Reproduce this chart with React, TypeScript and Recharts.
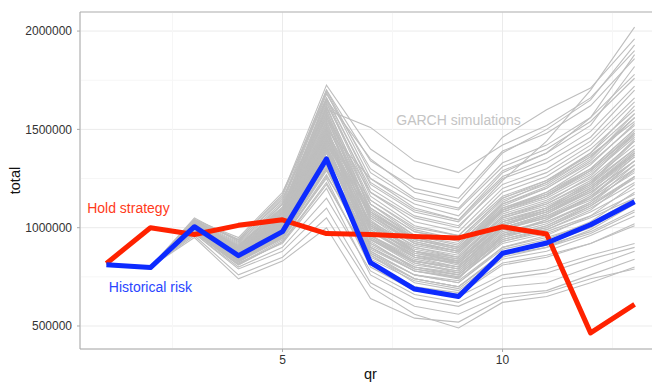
import {
  LineChart,
  Line,
  XAxis,
  YAxis,
  CartesianGrid,
  ReferenceLine,
  ReferenceDot,
} from "recharts";

// quarter index on the x axis
const quarters = [1, 2, 3, 4, 5, 6, 7, 8, 9, 10, 11, 12, 13];

// values below are in thousands
const UNIT = 1000;

const holdStrategy = [818, 1000, 965, 1012, 1040, 970, 965, 955, 948, 1005, 968, 465, 610];
const historicalRisk = [812, 797, 1005, 858, 980, 1350, 822, 688, 650, 870, 922, 1015, 1132];

// GARCH simulated paths (one row per simulation)
const garchSims: number[][] = [
  [815, 800, 1040, 900, 1120, 1560, 1180, 1050, 1000, 1240, 1440, 1700, 2020],
  [815, 800, 1050, 930, 1150, 1600, 1510, 1340, 1280, 1420, 1520, 1660, 1900],
  [815, 800, 1030, 940, 1170, 1725, 1400, 1250, 1200, 1460, 1600, 1710, 1960],
  [815, 800, 1020, 910, 1100, 1650, 1350, 1180, 1130, 1380, 1500, 1650, 1930],
  [815, 800, 1010, 880, 1060, 1500, 1250, 1100, 1040, 1280, 1380, 1560, 1880],
  [815, 800, 960, 760, 850, 1050, 700, 560, 490, 620, 650, 720, 800],
  [815, 800, 950, 740, 830, 1000, 640, 540, 520, 640, 670, 740, 790],
  [815, 800, 970, 790, 880, 1100, 720, 600, 560, 660, 680, 760, 840],
  [815, 800, 980, 820, 920, 1200, 760, 640, 600, 700, 720, 800, 880],
  [815, 800, 990, 830, 950, 1250, 800, 680, 650, 760, 790, 860, 920],
  [815, 800, 1000, 860, 1000, 1420, 960, 830, 790, 980, 1030, 1120, 1260],
  [815, 800, 1010, 870, 1020, 1480, 1000, 870, 830, 1020, 1080, 1180, 1340],
  [815, 800, 995, 850, 980, 1380, 920, 800, 760, 940, 990, 1080, 1200],
  [815, 800, 1005, 880, 1040, 1540, 1050, 900, 850, 1060, 1120, 1240, 1420],
  [815, 800, 1015, 890, 1060, 1580, 1090, 940, 890, 1100, 1170, 1300, 1500],
  [815, 800, 990, 845, 970, 1340, 880, 760, 730, 900, 950, 1020, 1150],
  [815, 800, 1000, 865, 1010, 1450, 980, 850, 820, 1000, 1060, 1150, 1300],
  [815, 800, 1020, 895, 1080, 1620, 1120, 980, 930, 1140, 1220, 1360, 1560],
  [815, 800, 985, 840, 960, 1300, 850, 740, 700, 870, 910, 980, 1090],
  [815, 800, 1025, 905, 1090, 1640, 1160, 1010, 960, 1180, 1260, 1400, 1600],
  [815, 800, 1000, 855, 995, 1400, 940, 810, 780, 960, 1000, 1100, 1230],
  [815, 800, 1008, 875, 1030, 1500, 1020, 880, 840, 1040, 1100, 1210, 1380],
  [815, 800, 975, 810, 930, 1230, 820, 700, 670, 820, 860, 920, 1010],
  [815, 800, 1012, 885, 1050, 1560, 1070, 920, 870, 1080, 1150, 1270, 1460],
  [815, 800, 995, 850, 990, 1440, 900, 780, 740, 960, 1040, 1160, 1320],
  [815, 800, 1005, 870, 1015, 1470, 1010, 860, 810, 990, 1050, 1140, 1280],
  [815, 800, 990, 840, 975, 1360, 990, 880, 850, 1050, 1120, 1230, 1400],
  [815, 800, 1018, 900, 1075, 1600, 1040, 880, 820, 1000, 1070, 1190, 1360],
  [815, 800, 980, 825, 945, 1270, 870, 760, 720, 890, 940, 1030, 1180],
  [815, 800, 1002, 860, 1005, 1430, 1100, 960, 920, 1120, 1200, 1330, 1520],
  [815, 800, 1010, 880, 1035, 1520, 930, 790, 750, 930, 980, 1060, 1170],
  [815, 800, 996, 855, 990, 1410, 960, 840, 800, 1010, 1090, 1220, 1440],
  [815, 800, 1022, 905, 1085, 1630, 1200, 1060, 1010, 1220, 1300, 1440, 1660],
  [815, 800, 985, 835, 965, 1320, 900, 790, 760, 940, 1000, 1110, 1260],
  [815, 800, 1030, 920, 1120, 1680, 1300, 1150, 1100, 1330, 1420, 1560, 1780],
  [815, 800, 1035, 925, 1130, 1690, 1250, 1120, 1060, 1290, 1380, 1520, 1820],
  [815, 800, 1000, 862, 1000, 1450, 1140, 1000, 960, 1160, 1240, 1380, 1580],
  [815, 800, 970, 800, 900, 1150, 780, 660, 620, 740, 770, 840, 900],
  [815, 800, 1008, 872, 1022, 1490, 870, 740, 700, 860, 900, 970, 1080],
  [815, 800, 1015, 888, 1055, 1570, 990, 850, 800, 1000, 1070, 1180, 1340],
  [815, 800, 993, 848, 982, 1390, 1030, 910, 870, 1070, 1140, 1250, 1440],
  [815, 800, 1003, 866, 1012, 1460, 950, 820, 770, 950, 1010, 1110, 1250],
  [815, 800, 1045, 940, 1160, 1700, 1340, 1200, 1150, 1390, 1480, 1620, 1860],
  [815, 800, 988, 842, 968, 1350, 820, 700, 660, 810, 850, 920, 1020],
  [815, 800, 1012, 882, 1042, 1530, 1060, 930, 880, 1090, 1180, 1320, 1530],
  [815, 800, 998, 858, 996, 1420, 1080, 950, 900, 1110, 1200, 1340, 1560],
  [815, 800, 978, 815, 938, 1260, 920, 800, 760, 950, 1010, 1120, 1300],
  [815, 800, 1017, 892, 1068, 1590, 1120, 960, 910, 1130, 1230, 1380, 1620],
  [815, 800, 994, 852, 986, 1400, 860, 720, 680, 840, 880, 960, 1060],
  [815, 800, 1006, 868, 1018, 1480, 1010, 900, 860, 1060, 1130, 1260, 1480],
  [815, 800, 1001, 864, 1008, 1440, 980, 860, 830, 1030, 1100, 1230, 1450],
  [815, 800, 983, 830, 955, 1300, 940, 820, 780, 970, 1040, 1150, 1340],
  [815, 800, 1040, 950, 1180, 1660, 1220, 1080, 1030, 1250, 1330, 1460, 1700],
  [815, 800, 1012, 878, 1035, 1510, 900, 780, 750, 920, 970, 1050, 1150],
  [815, 800, 1003, 870, 1025, 1500, 1060, 920, 880, 1080, 1160, 1290, 1480],
  [815, 800, 997, 856, 992, 1410, 1000, 880, 840, 1030, 1090, 1200, 1380],
  [815, 800, 1009, 874, 1028, 1490, 960, 830, 790, 970, 1030, 1130, 1290],
  [815, 800, 992, 846, 980, 1380, 940, 830, 800, 990, 1060, 1170, 1360],
  [815, 800, 1014, 886, 1048, 1550, 1100, 950, 900, 1100, 1180, 1300, 1500],
  [815, 800, 1019, 894, 1070, 1610, 1140, 990, 940, 1150, 1240, 1370, 1540],
  [815, 800, 987, 838, 962, 1330, 910, 800, 770, 960, 1020, 1130, 1320],
  [815, 800, 1001, 862, 1004, 1450, 1020, 890, 850, 1050, 1110, 1220, 1400],
  [815, 800, 1006, 870, 1016, 1470, 1050, 920, 880, 1090, 1170, 1290, 1490],
  [815, 800, 996, 852, 988, 1400, 880, 760, 720, 900, 960, 1060, 1220],
  [815, 800, 1011, 878, 1038, 1520, 1080, 940, 890, 1090, 1160, 1280, 1470],
  [815, 800, 984, 832, 958, 1310, 960, 850, 820, 1010, 1080, 1200, 1380],
  [815, 800, 1024, 910, 1095, 1650, 1180, 1030, 980, 1200, 1280, 1420, 1640],
  [815, 800, 975, 812, 925, 1220, 840, 730, 690, 850, 900, 990, 1120],
  [815, 800, 1004, 866, 1012, 1460, 990, 860, 820, 1010, 1080, 1190, 1370],
  [815, 800, 1016, 890, 1058, 1580, 1030, 880, 830, 1020, 1090, 1200, 1370],
  [815, 800, 999, 860, 1000, 1430, 1070, 940, 900, 1120, 1210, 1350, 1580],
  [815, 800, 989, 842, 970, 1350, 860, 740, 700, 870, 920, 1000, 1130],
  [815, 800, 1013, 884, 1045, 1540, 1010, 870, 830, 1030, 1100, 1210, 1390],
  [815, 800, 1028, 915, 1105, 1660, 1230, 1090, 1040, 1260, 1350, 1490, 1720],
  [815, 800, 993, 850, 984, 1395, 950, 830, 790, 990, 1050, 1160, 1340],
  [815, 800, 1007, 872, 1020, 1485, 1120, 980, 940, 1150, 1230, 1360, 1560],
  [815, 800, 981, 828, 950, 1290, 890, 780, 745, 930, 990, 1090, 1260],
  [815, 800, 1021, 900, 1078, 1615, 1080, 930, 880, 1090, 1160, 1290, 1480],
  [815, 800, 1038, 935, 1140, 1700, 1280, 1140, 1090, 1310, 1400, 1540, 1760],
];

const yTicks = [500000, 1000000, 1500000, 2000000];
const xTicks = [5, 10];
const xMinor = [2.5, 7.5, 12.5];
const yMinor = [750000, 1250000, 1750000];

const xDomain = [0.4, 13.6];
const yDomain = [383000, 2097000];

const data = quarters.map((qr, i) => {
  const row: Record<string, number> = {
    qr,
    hold: holdStrategy[i] * UNIT,
    hist: historicalRisk[i] * UNIT,
  };
  garchSims.forEach((sim, k) => {
    row[`g${k}`] = sim[i] * UNIT;
  });
  return row;
});

const FONT = "'Liberation Sans', Arial, sans-serif";

const YTitle = (props: any) => {
  const { viewBox } = props;
  const cx = viewBox.x + 15;
  const cy = viewBox.y + viewBox.height / 2;
  return (
    <text
      x={cx}
      y={cy}
      transform={`rotate(-90 ${cx} ${cy})`}
      textAnchor="middle"
      dominantBaseline="central"
      fontSize={14.5}
      fill="#111"
      fontFamily={FONT}
    >
      total
    </text>
  );
};

const XTitle = (props: any) => {
  const { viewBox } = props;
  const cx = viewBox.x + viewBox.width / 2;
  return (
    <text
      x={cx}
      y={viewBox.y + 30}
      textAnchor="middle"
      fontSize={14.5}
      fill="#111"
      fontFamily={FONT}
    >
      qr
    </text>
  );
};

export default function App() {
  return (
    <div
      style={{
        position: "absolute",
        left: 0,
        top: 0,
        width: 652,
        height: 385,
        overflow: "hidden",
        background: "#fff",
        fontFamily: FONT,
      }}
    >
      <LineChart
        width={670}
        height={385}
        data={data}
        margin={{ top: 12, right: 9, left: 0, bottom: 0 }}
      >
        <CartesianGrid stroke="#ebebeb" strokeWidth={1} />
        {xMinor.map((x) => (
          <ReferenceLine key={`xm${x}`} x={x} stroke="#f6f6f6" strokeWidth={1} />
        ))}
        {yMinor.map((y) => (
          <ReferenceLine key={`ym${y}`} y={y} stroke="#f6f6f6" strokeWidth={1} />
        ))}
        <ReferenceLine y={yDomain[1]} stroke="#b5b5b5" strokeWidth={1} />
        <XAxis
          type="number"
          dataKey="qr"
          domain={xDomain}
          ticks={xTicks}
          allowDataOverflow
          height={36}
          tickSize={3}
          tickMargin={3}
          stroke="#aaa"
          tick={{ fontSize: 12, fill: "#333", fontFamily: FONT }}
          label={<XTitle />}
        />
        <YAxis
          type="number"
          domain={yDomain}
          ticks={yTicks}
          allowDataOverflow
          width={80}
          tickSize={3}
          tickMargin={5}
          stroke="#aaa"
          tick={{ fontSize: 12, fill: "#333", fontFamily: FONT }}
          label={<YTitle />}
        />
        {garchSims.map((_, k) => (
          <Line
            key={`g${k}`}
            type="linear"
            dataKey={`g${k}`}
            stroke="#bebebe"
            strokeWidth={1.1}
            dot={false}
            activeDot={false}
            isAnimationActive={false}
          />
        ))}
        <Line
          type="linear"
          dataKey="hold"
          stroke="#ff2200"
          strokeWidth={5}
          strokeLinejoin="round"
          dot={false}
          activeDot={false}
          isAnimationActive={false}
        />
        <Line
          type="linear"
          dataKey="hist"
          stroke="#0d2bff"
          strokeWidth={5}
          strokeLinejoin="round"
          dot={false}
          activeDot={false}
          isAnimationActive={false}
        />
        <ReferenceDot
          x={9}
          y={1550000}
          r={0}
          fill="none"
          stroke="none"
          label={{
            value: "GARCH simulations",
            position: "center",
            fill: "#c4c4c4",
            fontSize: 14,
            fontFamily: FONT,
          }}
        />
        <ReferenceDot
          x={1.5}
          y={1100000}
          r={0}
          fill="none"
          stroke="none"
          label={{
            value: "Hold strategy",
            position: "center",
            fill: "#ff3a1a",
            fontSize: 14,
            fontFamily: FONT,
          }}
        />
        <ReferenceDot
          x={2}
          y={700000}
          r={0}
          fill="none"
          stroke="none"
          label={{
            value: "Historical risk",
            position: "center",
            fill: "#2a45ff",
            fontSize: 14,
            fontFamily: FONT,
          }}
        />
      </LineChart>
    </div>
  );
}
